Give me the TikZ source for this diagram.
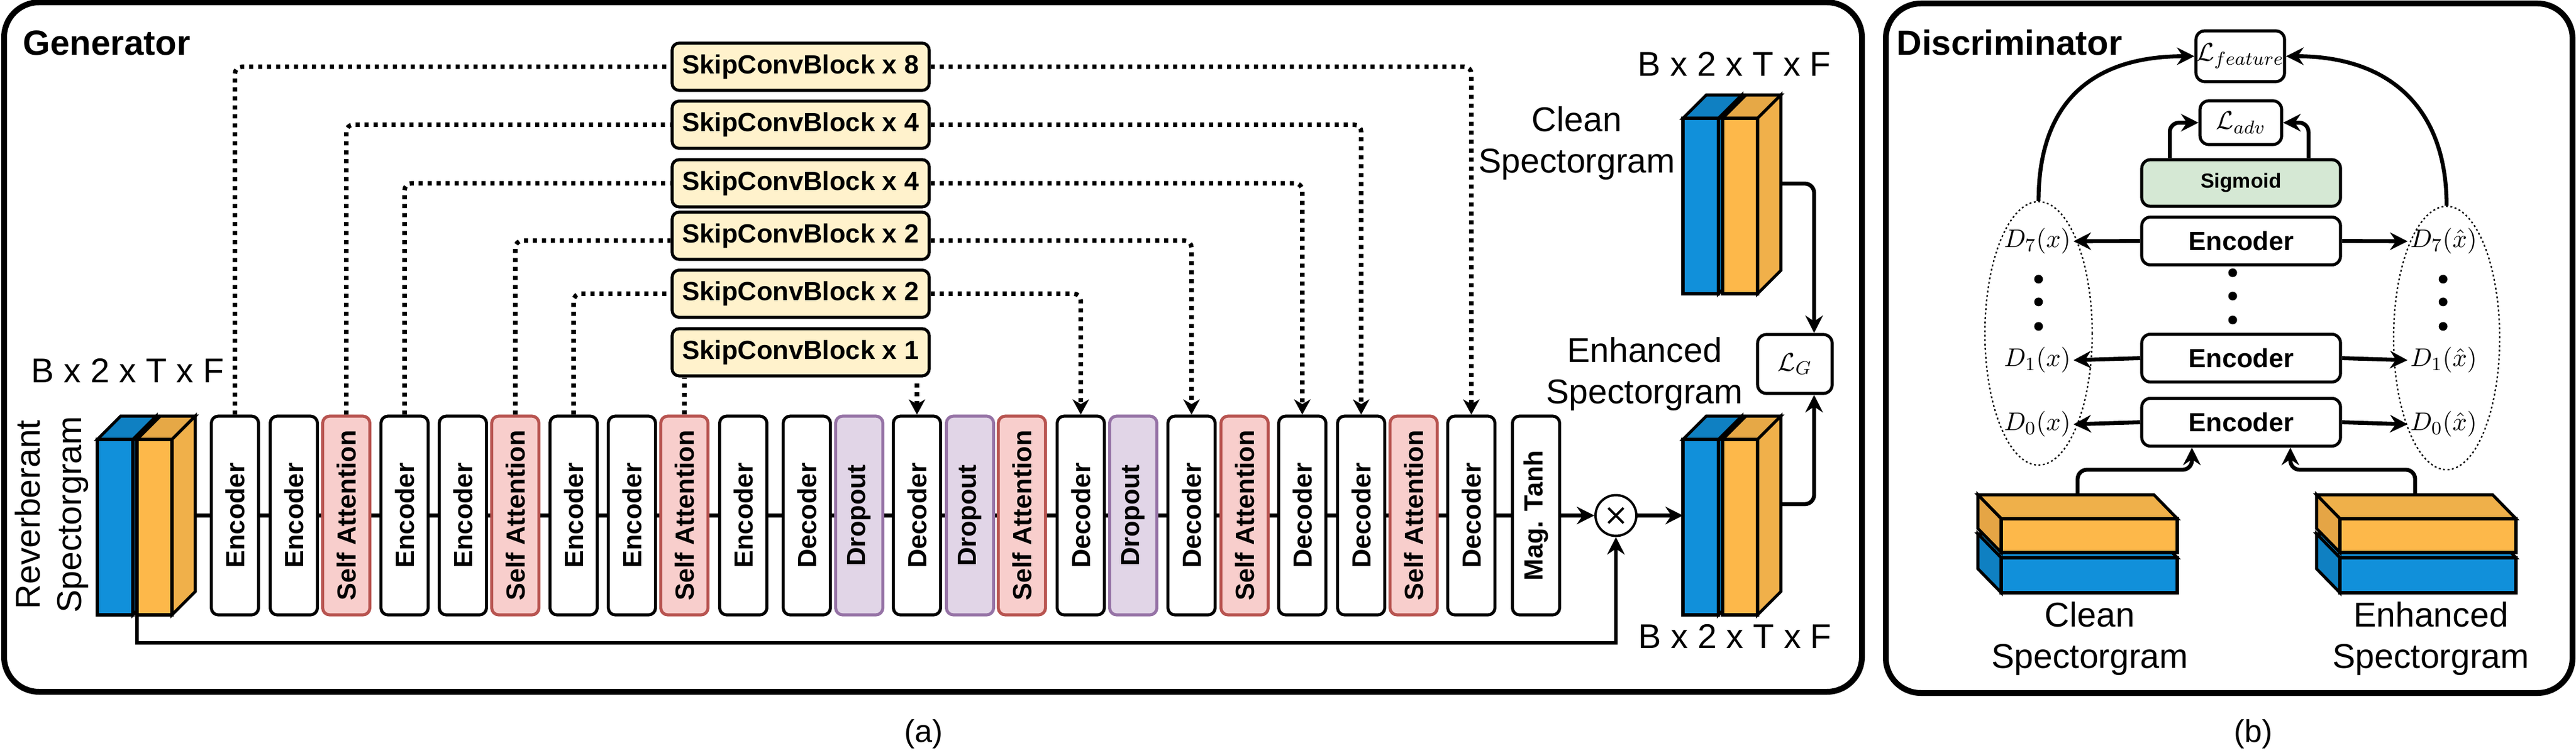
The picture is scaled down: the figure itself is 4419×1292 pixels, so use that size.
\documentclass[tikz,border=0pt]{standalone}
\usepackage{fontspec}
\setmainfont{Liberation Sans}
\usepackage{graphicx}
\usetikzlibrary{arrows.meta,calc,shapes.geometric}
\definecolor{safill}{HTML}{F8CECC}
\definecolor{sadraw}{HTML}{B85450}
\definecolor{dpfill}{HTML}{E1D5E7}
\definecolor{dpdraw}{HTML}{9673A6}
\definecolor{scbfill}{HTML}{FFF2CC}
\definecolor{sgfill}{HTML}{D5E8D4}
\definecolor{bfront}{HTML}{1190DA}
\definecolor{btop}{HTML}{0F80C2}
\definecolor{ofront}{HTML}{FDB84A}
\definecolor{otop}{HTML}{E6A846}
\definecolor{oside}{HTML}{F0B04A}
\definecolor{otoptwo}{HTML}{EFB04A}
\definecolor{osidetwo}{HTML}{E5A545}
\newcommand\vtxt[1]{\rotatebox{90}{#1}}
\newcommand\vspecgram[2]{%
  \filldraw[spec, fill=btop] (#1,#2) -- ({#1+61},#2) -- ({#1+101},{#2-40}) -- ({#1+40},{#2-40}) -- cycle;
  \filldraw[spec, fill=bfront] ({#1+61},#2) -- ({#1+101},{#2-40}) -- ({#1+101},{#2+261}) -- ({#1+61},{#2+301}) -- cycle;
  \filldraw[spec, fill=bfront] (#1,#2) rectangle ({#1+61},{#2+301});
  \filldraw[spec, fill=otop] ({#1+68},#2) -- ({#1+128},#2) -- ({#1+168},{#2-40}) -- ({#1+108},{#2-40}) -- cycle;
  \filldraw[spec, fill=oside] ({#1+128},#2) -- ({#1+168},{#2-40}) -- ({#1+168},{#2+261}) -- ({#1+128},{#2+301}) -- cycle;
  \filldraw[spec, fill=ofront] ({#1+68},#2) rectangle ({#1+128},{#2+301});
}
\newcommand\hstackgram[2]{%
  \filldraw[spec, fill=bfront] (#1,{#2+67}) -- ({#1+302},{#2+67}) -- ({#1+262},{#2+26}) -- ({#1-40},{#2+26}) -- cycle;
  \filldraw[spec, fill=btop] (#1,{#2+67}) -- (#1,{#2+127}) -- ({#1-40},{#2+86}) -- ({#1-40},{#2+26}) -- cycle;
  \filldraw[spec, fill=bfront] (#1,{#2+67}) rectangle ({#1+302},{#2+127});
  \filldraw[spec, fill=otoptwo] (#1,#2) -- ({#1+302},#2) -- ({#1+262},{#2-41}) -- ({#1-40},{#2-41}) -- cycle;
  \filldraw[spec, fill=osidetwo] (#1,#2) -- (#1,{#2+58}) -- ({#1-40},{#2+17}) -- ({#1-40},{#2-41}) -- cycle;
  \filldraw[spec, fill=ofront] (#1,#2) rectangle ({#1+302},{#2+58});
}
\begin{document}
\begin{tikzpicture}[x=0.25pt, y=-0.25pt,
  blk/.style={draw, line width=1.3pt, rounded corners=3pt, minimum width=20.25pt, minimum height=85.25pt, inner sep=0pt, font=\bfseries\fontsize{11.25}{13}\selectfont},
  enc/.style={blk, fill=white},
  sa/.style={blk, fill=safill, draw=sadraw},
  drop/.style={blk, fill=dpfill, draw=dpdraw},
  scb/.style={draw, line width=1.3pt, rounded corners=3pt, fill=scbfill, minimum width=110.25pt, minimum height=20.25pt, inner sep=0pt, font=\bfseries\fontsize{11.25}{13}\selectfont},
  skip/.style={line width=1.9pt, dash pattern=on 1.75pt off 2.1pt, rounded corners=3pt},
  skiparr/.style={skip, -{Stealth[length=6.5pt,width=7pt,inset=2pt]}},
  main/.style={line width=1.6pt},
  arr/.style={line width=1.7pt, -{Stealth[length=7.5pt,width=7.5pt,inset=2.5pt]}},
  spec/.style={line width=1.3pt},
  lbl/.style={font=\fontsize{14.75}{17.75}\selectfont, inner sep=0pt},
  ttl/.style={font=\bfseries\fontsize{15}{18}\selectfont, inner sep=0pt},
  lossbox/.style={draw, line width=1.3pt, rounded corners=3.75pt, fill=white, inner sep=0pt, font=\fontsize{10.75}{13}\selectfont},
  dbox/.style={draw, line width=1.3pt, rounded corners=3.75pt, minimum width=85.25pt, minimum height=20.5pt, inner sep=0pt, font=\bfseries\fontsize{11.25}{13}\selectfont},
  dlab/.style={inner sep=1pt, font=\fontsize{10.75}{13}\selectfont},
  dotn/.style={circle, fill, inner sep=0pt, minimum size=3.75pt},
  frame/.style={line width=2.5pt, rounded corners=15pt},
  ell/.style={ellipse, draw, line width=0.6pt, dash pattern=on 0.8pt off 1.1pt, inner sep=0pt}
]
\useasboundingbox (0,0) rectangle (4419,1292);

% frames
\draw[frame] (7,4) rectangle (3194,1187);
\draw[frame] (3235,6) rectangle (4413,1189);
\node[ttl, anchor=base west] (gtitle) at (39,95) {Generator};
\node[ttl, anchor=base west] (dtitle) at (3253,95) {Discriminator};

% ---------------- Generator ----------------
\vspecgram{167}{754}
\vspecgram{2887}{203}
\vspecgram{2887}{754}
\coordinate (rsout) at (335,884.5);
\coordinate (rsbot) at (235,1055);
\coordinate (csout) at (3055,315);
\coordinate (esin) at (2887,884.5);
\coordinate (esout) at (3056,865);

\node[lbl, rotate=90, align=center, anchor=north] (rslab) at (25,883) {Reverberant\\Spectorgram};
\node[lbl, anchor=base west] (dimin) at (53,657) {B x 2 x T x F};
\node[lbl, anchor=base west] (dimclean) at (2809,131) {B x 2 x T x F};
\node[lbl, anchor=base west] (dimenh) at (2810,1112) {B x 2 x T x F};
\node[lbl, align=center, anchor=north] (cslab) at (2705,182) {Clean\\Spectorgram};
\node[lbl, align=center, anchor=north] (eslab) at (2821,578) {Enhanced\\Spectorgram};

\node[enc]  (b1)  at (403,884.5)  {\vtxt{Encoder}};
\node[enc]  (b2)  at (504,884.5)  {\vtxt{Encoder}};
\node[sa]   (b3)  at (594,884.5)  {\vtxt{Self Attention}};
\node[enc]  (b4)  at (694,884.5)  {\vtxt{Encoder}};
\node[enc]  (b5)  at (794,884.5)  {\vtxt{Encoder}};
\node[sa]   (b6)  at (884,884.5)  {\vtxt{Self Attention}};
\node[enc]  (b7)  at (984,884.5)  {\vtxt{Encoder}};
\node[enc]  (b8)  at (1084,884.5) {\vtxt{Encoder}};
\node[sa]   (b9)  at (1174,884.5) {\vtxt{Self Attention}};
\node[enc]  (b10) at (1275,884.5) {\vtxt{Encoder}};
\node[enc]  (b11) at (1384,884.5) {\vtxt{Decoder}};
\node[drop] (b12) at (1474,884.5) {\vtxt{Dropout}};
\node[enc]  (b13) at (1573,884.5) {\vtxt{Decoder}};
\node[drop] (b14) at (1664,884.5) {\vtxt{Dropout}};
\node[sa]   (b15) at (1753,884.5) {\vtxt{Self Attention}};
\node[enc]  (b16) at (1854,884.5) {\vtxt{Decoder}};
\node[drop] (b17) at (1944,884.5) {\vtxt{Dropout}};
\node[enc]  (b18) at (2044,884.5) {\vtxt{Decoder}};
\node[sa]   (b19) at (2135,884.5) {\vtxt{Self Attention}};
\node[enc]  (b20) at (2234,884.5) {\vtxt{Decoder}};
\node[enc]  (b21) at (2335,884.5) {\vtxt{Decoder}};
\node[sa]   (b22) at (2425,884.5) {\vtxt{Self Attention}};
\node[enc]  (b23) at (2524,884.5) {\vtxt{Decoder}};
\node[enc]  (b24) at (2635,884.5) {\vtxt{Mag. Tanh}};

\draw[main] (rsout) -- (b1);
\foreach \i [evaluate=\i as \j using int(\i+1)] in {1,...,23} {\draw[main] (b\i) -- (b\j);}

\node[circle, draw, line width=1pt, minimum size=17.5pt, inner sep=0pt, fill=white] (mul) at (2772,884.5) {};
\draw[line width=1pt] ($(mul.center)+(-13,-13)$) -- ($(mul.center)+(13,13)$);
\draw[line width=1pt] ($(mul.center)+(-13,13)$) -- ($(mul.center)+(13,-13)$);
\draw[arr] (b24) -- (mul);
\draw[arr] (mul) -- (esin);
\draw[arr, line width=1.6pt] (rsbot) -- ++(0,48) -| (mul.south);

% skip blocks
\node[scb] (s8)  at (1373.5,114.5) {SkipConvBlock x 8};
\node[scb] (s4a) at (1373.5,214)   {SkipConvBlock x 4};
\node[scb] (s4b) at (1373.5,314.5) {SkipConvBlock x 4};
\node[scb] (s2a) at (1373.5,404.5) {SkipConvBlock x 2};
\node[scb] (s2b) at (1373.5,504)   {SkipConvBlock x 2};
\node[scb] (s1)  at (1373.5,604.5) {SkipConvBlock x 1};

\draw[skip] (b1.north) |- (s8.west);
\draw[skiparr] (s8.east) -| (b23.north);
\draw[skip] (b3.north) |- (s4a.west);
\draw[skiparr] (s4a.east) -| (b21.north);
\draw[skip] (b4.north) |- (s4b.west);
\draw[skiparr] (s4b.east) -| (b20.north);
\draw[skip] (b6.north) |- ([yshift=-2.1pt]s2a.west);
\draw[skiparr] ([yshift=-2.1pt]s2a.east) -| (b18.north);
\draw[skip] (b7.north) |- (s2b.west);
\draw[skiparr] (s2b.east) -| (b16.north);
\draw[skip] (b9.north) -- (b9.north |- s1.south);
\draw[skiparr] ([yshift=-2.5pt]s1.south -| b13.north) -- (b13.north);

% loss G
\node[lossbox, minimum width=32pt, minimum height=25.25pt] (lg) at (3079,624.5) {$\mathcal{L}_G$};
\draw[arr, rounded corners=4pt] (csout) -| ([xshift=8.25pt]lg.north);
\draw[arr, rounded corners=4pt] (esout) -| ([xshift=8.25pt]lg.south);

\node[font=\fontsize{13.5}{16}\selectfont] (cap-a) at (1584,1260) {(a)};

% ---------------- Discriminator ----------------
\node[ell, minimum width=46pt, minimum height=113pt] (ell1) at (3497,572) {};
\node[ell, minimum width=45.5pt, minimum height=113pt] (ell2) at (4197,580) {};

\node[lossbox, minimum width=38pt, minimum height=21.75pt] (lf) at (3843,96.5) {$\mathcal{L}_{feature}$};
\node[lossbox, minimum width=35pt, minimum height=18.75pt] (la) at (3844,210.5) {$\mathcal{L}_{adv}$};
\node[dbox, fill=sgfill, minimum height=20pt, font=\bfseries\fontsize{8.75}{10}\selectfont] (sg) at (3844.5,314) {Sigmoid};
\node[dbox, fill=white] (e7) at (3844.5,413.5) {Encoder};
\node[dbox, fill=white] (e1) at (3844.5,614.5) {Encoder};
\node[dbox, fill=white] (e0) at (3844.5,724.5) {Encoder};

\node[dotn] (cd1) at (3830,468) {};
\node[dotn] (cd2) at (3830,508) {};
\node[dotn] (cd3) at (3830,549) {};
\node[dotn] (ld1) at (3497,479) {};
\node[dotn] (ld2) at (3497,518) {};
\node[dotn] (ld3) at (3497,560) {};
\node[dotn] (rd1) at (4191,479) {};
\node[dotn] (rd2) at (4191,518) {};
\node[dotn] (rd3) at (4191,560) {};

\node[dlab] (d7l) at (3495,414) {$D_7(x)$};
\node[dlab] (d1l) at (3495,618) {$D_1(x)$};
\node[dlab] (d0l) at (3495,728) {$D_0(x)$};
\node[dlab] (d7r) at (4192,414) {$D_7(\hat{x})$};
\node[dlab] (d1r) at (4192,618) {$D_1(\hat{x})$};
\node[dlab] (d0r) at (4192,728) {$D_0(\hat{x})$};

\draw[arr] (e7.west) -- (d7l.east);
\draw[arr] (e1.west) -- (d1l.east);
\draw[arr] (e0.west) -- (d0l.east);
\draw[arr] (e7.east) -- (d7r.west);
\draw[arr] (e1.east) -- (d1r.west);
\draw[arr] (e0.east) -- (d0r.west);

\draw[arr, rounded corners=4pt] ([xshift=-30.6pt]sg.north) |- (la.west);
\draw[arr, rounded corners=4pt] ([xshift=28.9pt]sg.north) |- (la.east);
\draw[arr] (ell1.north) .. controls +(0,-170) and +(-175,0) .. (lf.west);
\draw[arr] (ell2.north) .. controls +(0,-170) and +(175,0) .. (lf.east);

\hstackgram{3433}{890}
\hstackgram{4014}{890}
\coordinate (cst) at (3564,849);
\coordinate (est) at (4143,849);
\draw[arr, rounded corners=4pt] (cst) -- ++(0,-43) -| ([xshift=-21.1pt]e0.south);
\draw[arr, rounded corners=4pt] (est) -- ++(0,-43) -| ([xshift=21.1pt]e0.south);

\node[lbl, align=center, anchor=north] (dclab) at (3585,1032) {Clean\\Spectorgram};
\node[lbl, align=center, anchor=north] (delab) at (4170,1032) {Enhanced\\Spectorgram};
\node[font=\fontsize{13.5}{16}\selectfont] (cap-b) at (3865,1260) {(b)};
\end{tikzpicture}
\end{document}
